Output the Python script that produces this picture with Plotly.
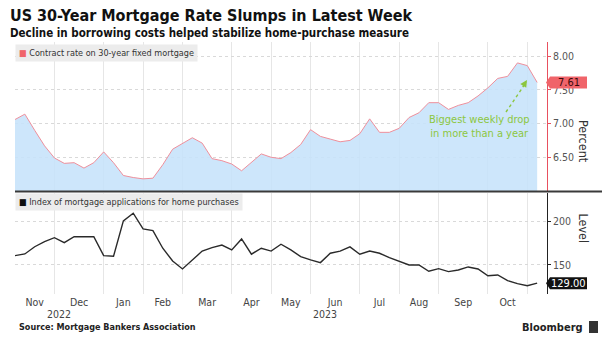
import pandas as pd
import plotly.graph_objects as go

# Weekly MBA survey, week ending Friday, Oct 28 2022 .. Nov 3 2023
rate = [7.06, 7.14, 6.90, 6.67, 6.49, 6.41, 6.42, 6.34, 6.42, 6.58,
        6.42, 6.23, 6.20, 6.18, 6.19, 6.39, 6.62, 6.71, 6.79, 6.71,
        6.48, 6.45, 6.40, 6.30, 6.43, 6.55, 6.50, 6.48, 6.57, 6.69,
        6.91, 6.81, 6.77, 6.73, 6.75, 6.85, 7.07, 6.87, 6.87, 6.93,
        7.09, 7.16, 7.31, 7.31, 7.21, 7.27, 7.31, 7.41, 7.53, 7.67,
        7.70, 7.90, 7.86, 7.61]

purchase = [160.7, 162.7, 171.0, 177.0, 181.5, 175.8, 182.7, 182.7, 182.5, 160.7,
            160.0, 200.8, 209.7, 191.6, 189.6, 169.3, 154.6, 145.4, 155.8, 166.0,
            170.0, 173.0, 167.3, 180.0, 162.4, 169.3, 166.0, 173.9, 167.3, 159.6,
            155.8, 152.7, 163.5, 166.0, 170.8, 162.4, 166.0, 163.5, 158.4, 153.8,
            150.0, 150.0, 142.7, 145.7, 142.3, 144.2, 147.7, 145.4, 137.6, 138.5,
            131.9, 128.5, 126.1, 129.0]

weeks = pd.date_range("2022-10-28", periods=len(rate), freq="7D")

month_labels = ["Nov", "Dec", "Jan", "Feb", "Mar", "Apr", "May", "Jun",
                "Jul", "Aug", "Sep", "Oct"]
year_labels = ["2022", "2023"]
rate_ticks = [6.5, 7.0, 7.5, 8.0]
purchase_ticks = [150, 200]

TITLE = "US 30-Year Mortgage Rate Slumps in Latest Week"
SUBTITLE = "Decline in borrowing costs helped stabilize home-purchase measure"
NOTE = "Biggest weekly drop<br>in more than a year"

# Month boundaries sit on the last observation before each month begins
month_starts = pd.date_range("2022-11-01", "2023-11-01", freq="MS")
grid_dates = [weeks[weeks < m][-1] if (weeks < m).any() else weeks[0] for m in month_starts]
label_dates = [grid_dates[k] + (grid_dates[k + 1] - grid_dates[k]) / 2
               for k in range(len(grid_dates) - 1)]
year_dates = []
for y in year_labels:
    w = weeks[weeks.year == int(y)]
    year_dates.append(w[0] + (w[-1] - w[0]) / 2)

x_end = weeks[-1] + pd.Timedelta(days=7)

FONT = "DejaVu Sans Condensed, Liberation Sans Narrow, DejaVu Sans, sans-serif"
W, H = 611, 340
ML, MR, MT, MB = 15, 64, 42, 46
PW, PH = W - ML - MR, H - MT - MB


def px_x(px):
    return (px - ML) / PW


def px_y(py):
    return (H - MB - py) / PH


top_dom = [px_y(191), 1.0]
bot_dom = [0.0, px_y(193)]
rate_rng = [6.0, 8.21]
pur_rng = [116.5, 233.0]

fig = go.Figure()
fig.add_trace(go.Scatter(
    x=weeks, y=rate, xaxis="x2", yaxis="y2", mode="lines",
    line=dict(color="#ef8f9b", width=1),
    fill="tozeroy", fillcolor="rgba(198,226,251,0.88)",
    hoverinfo="skip", showlegend=False))
fig.add_trace(go.Scatter(
    x=weeks, y=purchase, xaxis="x", yaxis="y", mode="lines",
    line=dict(color="#2a2a2a", width=1.4),
    hoverinfo="skip", showlegend=False))

minor_grid = dict(tickvals=grid_dates, showgrid=True, gridcolor="#e6e6e6",
                  gridwidth=1, ticks="")

fig.update_layout(
    width=W, height=H,
    margin=dict(l=ML, r=MR, t=MT, b=MB),
    paper_bgcolor="white", plot_bgcolor="white",
    font=dict(family=FONT, color="#444"),
    showlegend=False,
    xaxis=dict(domain=[0, 1], anchor="y", type="date", range=[weeks[0], x_end],
               tickmode="array", tickvals=label_dates, ticktext=month_labels,
               showgrid=False, zeroline=False, showline=False, ticks="",
               tickfont=dict(size=10.5, color="#444"), minor=minor_grid),
    xaxis2=dict(domain=[0, 1], anchor="y2", type="date", matches="x",
                showticklabels=False, showgrid=False, zeroline=False,
                showline=False, ticks="", minor=minor_grid),
    yaxis=dict(domain=bot_dom, anchor="x", side="right", range=pur_rng,
               tickmode="array", tickvals=purchase_ticks,
               showgrid=True, griddash="dot", gridcolor="#d9d9d9",
               zeroline=False, showline=True, linecolor="#222", linewidth=1,
               ticks="outside", ticklen=3, tickcolor="#222",
               tickfont=dict(size=10.5, color="#555")),
    yaxis2=dict(domain=top_dom, anchor="x2", side="right", range=rate_rng,
                tickmode="array", tickvals=rate_ticks, tickformat=".2f",
                showgrid=True, griddash="dot", gridcolor="#d9d9d9",
                zeroline=False, showline=True, linecolor="#e8505f", linewidth=1,
                ticks="outside", ticklen=3, tickcolor="#e8505f",
                tickfont=dict(size=10.5, color="#555")),
)

shapes = []
# panel separator
shapes.append(dict(type="line", xref="paper", yref="paper",
                   x0=0, x1=px_x(602), y0=px_y(191.5), y1=px_y(191.5),
                   line=dict(color="#3a3a3a", width=2)))


def badge(value, yref, rng, dom, fill):
    # value tag hanging off the right axis
    half = 6 * (rng[1] - rng[0]) / ((dom[1] - dom[0]) * PH)
    xt, xb, xr = px_x(546), px_x(550), px_x(587)
    path = (f"M {xt},{value} L {xb},{value + half} L {xr},{value + half} "
            f"L {xr},{value - half} L {xb},{value - half} Z")
    return dict(type="path", xref="paper", yref=yref, path=path,
                fillcolor=fill, line=dict(width=0), layer="above")


shapes.append(badge(rate[-1], "y2", rate_rng, top_dom, "#f0646a"))
shapes.append(badge(purchase[-1], "y", pur_rng, bot_dom, "#111111"))

# dotted pointer for the note
shapes.append(dict(type="line", xref="paper", yref="paper",
                   x0=px_x(506), y0=px_y(112), x1=px_x(525), y1=px_y(84),
                   line=dict(color="#8cc63f", width=1.4, dash="dot")))
# logo mark
shapes.append(dict(type="rect", xref="paper", yref="paper",
                   x0=px_x(589), x1=px_x(598), y0=px_y(333), y1=px_y(321),
                   fillcolor="#333", line=dict(width=0)))
fig.update_layout(shapes=shapes)

ann = []
ann.append(dict(text=f"<b>{TITLE}</b>", xref="paper", yref="paper",
                x=px_x(8), y=px_y(16), xanchor="left", yanchor="middle",
                showarrow=False, font=dict(size=16, color="#111", family=FONT)))
ann.append(dict(text=f"<b>{SUBTITLE}</b>", xref="paper", yref="paper",
                x=px_x(8), y=px_y(33), xanchor="left", yanchor="middle",
                showarrow=False, font=dict(size=11.5, color="#111", family=FONT)))
ann.append(dict(text="<span style='color:#f0646a'>■</span> Contract rate on 30-year fixed mortgage",
                xref="paper", yref="paper", x=0, y=px_y(53),
                xanchor="left", yanchor="middle", showarrow=False,
                bgcolor="#ececec", borderpad=3,
                font=dict(size=9, color="#333")))
ann.append(dict(text="<span style='color:#111'>■</span> Index of mortgage applications for home purchases",
                xref="paper", yref="paper", x=0, y=px_y(202),
                xanchor="left", yanchor="middle", showarrow=False,
                bgcolor="#ececec", borderpad=3,
                font=dict(size=9, color="#333")))
ann.append(dict(text="Percent", xref="paper", yref="paper",
                x=px_x(593), y=px_y(118), textangle=90, showarrow=False,
                font=dict(size=12.5, color="#333")))
ann.append(dict(text="Level", xref="paper", yref="paper",
                x=px_x(593), y=px_y(245), textangle=90, showarrow=False,
                font=dict(size=12.5, color="#333")))
ann.append(dict(text=f"{rate[-1]:.2f}", xref="paper", yref="y2",
                x=px_x(568.5), y=rate[-1], xanchor="center", yanchor="middle",
                showarrow=False, font=dict(size=11, color="#3a0a0a")))
ann.append(dict(text=f"{purchase[-1]:.2f}", xref="paper", yref="y",
                x=px_x(568.5), y=purchase[-1], xanchor="center", yanchor="middle",
                showarrow=False, font=dict(size=11, color="white")))
ann.append(dict(text=NOTE, xref="paper", yref="paper",
                x=px_x(479), y=px_y(126.5), xanchor="center", yanchor="middle",
                showarrow=False, align="center",
                font=dict(size=11, color="#8cc63f")))
ann.append(dict(text="", xref="paper", yref="paper",
                x=px_x(527), y=px_y(80), ax=-5, ay=8, axref="pixel", ayref="pixel",
                showarrow=True, arrowhead=2, arrowsize=1, arrowwidth=1.4,
                arrowcolor="#8cc63f"))
for yl, yd in zip(year_labels, year_dates):
    ann.append(dict(text=yl, xref="x", yref="paper", x=yd, y=px_y(314),
                    xanchor="center", yanchor="middle", showarrow=False,
                    font=dict(size=10.5, color="#444")))
ann.append(dict(text="<b>Source: Mortgage Bankers Association</b>",
                xref="paper", yref="paper", x=px_x(17), y=px_y(327),
                xanchor="left", yanchor="middle", showarrow=False,
                font=dict(size=9, color="#222")))
ann.append(dict(text="<b>Bloomberg</b>", xref="paper", yref="paper",
                x=px_x(585), y=px_y(327), xanchor="right", yanchor="middle",
                showarrow=False, font=dict(size=11, color="#222")))
fig.update_layout(annotations=ann)

fig.write_html("out.html")
